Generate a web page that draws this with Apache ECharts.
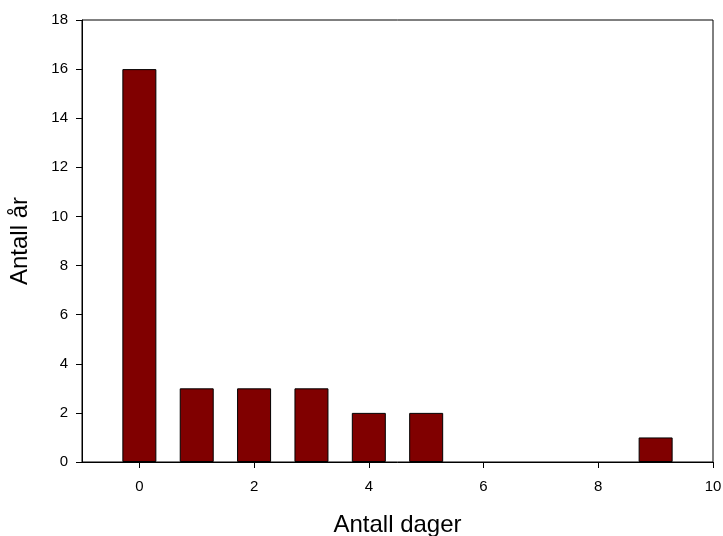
<!DOCTYPE html>
<html><head><meta charset="utf-8">
<script src="https://cdn.jsdelivr.net/npm/echarts@6/dist/echarts.min.js"></script>
<style>html,body{margin:0;padding:0;background:#fff}#c{width:723px;height:536px}</style>
</head><body><div id="c"></div>
<script>
const days = [0, 1, 2, 3, 4, 5, 6, 7, 8, 9];
const years = [16, 3, 3, 3, 2, 2, 0, 0, 0, 1];
const xTicks = [0, 2, 4, 6, 8, 10];

const chart = echarts.init(document.getElementById('c'), null, {renderer: 'canvas'});
const font = 'Liberation Sans, Arial, sans-serif';
chart.setOption({
  animation: false,
  grid: {left: 82, right: 10, top: 20, bottom: 74, show: true, borderColor: '#000', borderWidth: 1,
    backgroundColor: 'transparent', containLabel: false, outerBoundsMode: 'none'},
  xAxis: {
    type: 'value', min: -1, max: 10, interval: 1,
    name: 'Antall dager', nameLocation: 'middle', nameGap: 51,
    nameTextStyle: {fontFamily: font, fontSize: 24, color: '#000'},
    axisLine: {show: true, onZero: false, lineStyle: {color: '#000', width: 1}},
    axisTick: {show: true, length: 6, lineStyle: {color: '#000'}, customValues: xTicks},
    axisLabel: {fontFamily: font, fontSize: 15, color: '#000', margin: 17, customValues: xTicks},
    splitLine: {show: false}
  },
  yAxis: {
    type: 'value', min: 0, max: 18, interval: 2,
    name: 'Antall år', nameLocation: 'middle', nameGap: 50,
    nameTextStyle: {fontFamily: font, fontSize: 24, color: '#000'},
    axisLine: {show: true, onZero: false, lineStyle: {color: '#000', width: 1}},
    axisTick: {show: true, length: 6, lineStyle: {color: '#000'}},
    axisLabel: {fontFamily: font, fontSize: 15, color: '#000', margin: 14},
    splitLine: {show: false}
  },
  series: [{
    type: 'bar',
    data: days.map((d, i) => ({value: [d, years[i]], itemStyle: {borderWidth: years[i] === 0 ? 0 : 1}})),
    barWidth: 34,
    itemStyle: {color: '#800000', borderColor: '#000', borderWidth: 1}
  }]
});
</script></body></html>
